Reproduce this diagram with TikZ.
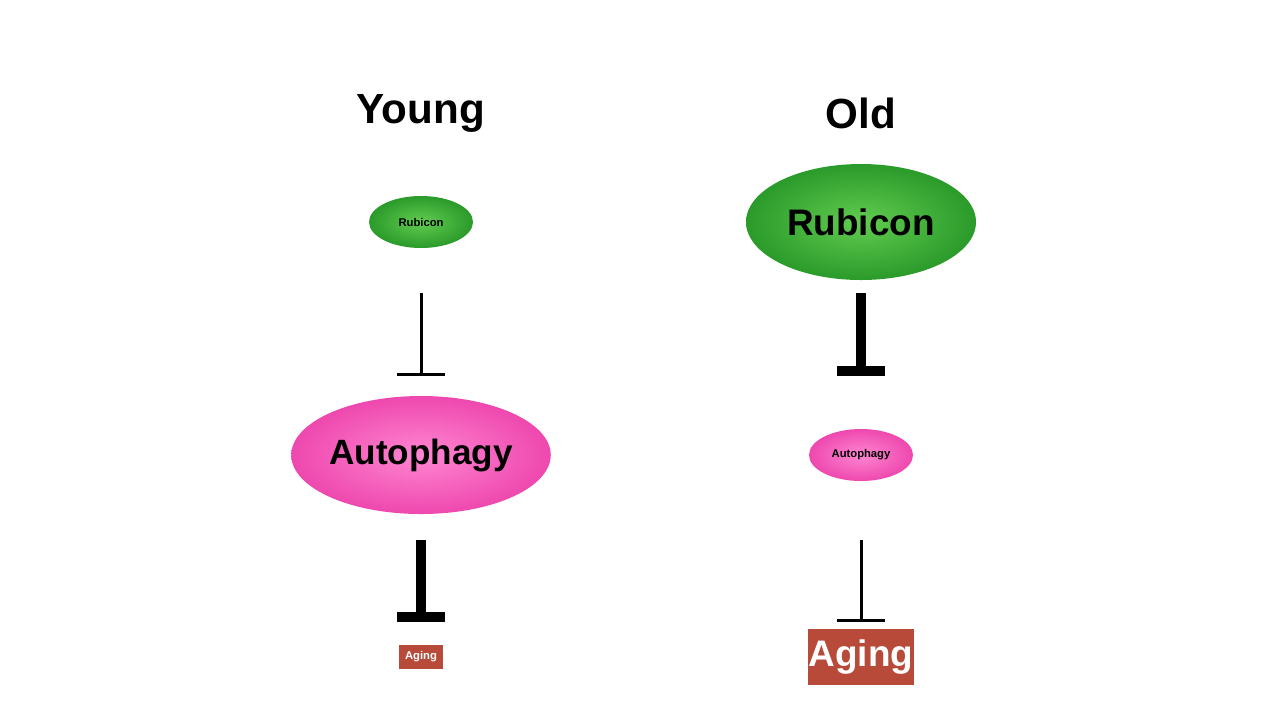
\documentclass[tikz,border=0pt]{standalone}
\usepackage{fontspec}
\setmainfont{Liberation Sans}
\usetikzlibrary{arrows.meta,shapes.geometric}
\definecolor{rubgreen}{HTML}{2A9A2A}
\definecolor{rubgreenin}{HTML}{62CC50}
\definecolor{autopink}{HTML}{EE48AE}
\definecolor{autopinkin}{HTML}{FF86D2}
\definecolor{agingred}{HTML}{B84A3A}
\tikzset{
  rubicon/.style={ellipse, inner sep=0pt, shading=radial, inner color=rubgreenin, outer color=rubgreen, font=\bfseries},
  autoph/.style={ellipse, inner sep=0pt, shading=radial, inner color=autopinkin, outer color=autopink, font=\bfseries},
  agingbox/.style={rectangle, inner sep=0pt, fill=agingred, text=white, font=\bfseries},
  inhib/.style={-{Bar[width=4.8mm]}},
}
\begin{document}
\begin{tikzpicture}[x=0.1mm, y=-0.1mm] %Um pixel da figura por unidade
	\useasboundingbox (0,0) rectangle (1280,720);
		%Titulos
	\node (young) at (421,113) {\fontsize{12}{14}\selectfont\bfseries Young};
	\node (old) at (861,113) {\fontsize{12}{14}\selectfont\bfseries Old};
		%Coluna jovem
	\node[rubicon, minimum width=10.4mm, minimum height=5.2mm] (rubY) at (421,222) {\fontsize{3.2}{4}\selectfont Rubicon};
	\node[autoph, minimum width=23mm, minimum height=11.8mm] (autoY) at (421,455) {\fontsize{10}{12}\selectfont Autophagy};
	\node[agingbox, minimum width=4.4mm, minimum height=2.4mm] (ageY) at (421,657) {\fontsize{3.2}{4}\selectfont Aging};
		%Coluna velha
	\node[rubicon, minimum width=23mm, minimum height=11.6mm] (rubO) at (861,222) {\fontsize{10.5}{12}\selectfont Rubicon};
	\node[autoph, minimum width=10.4mm, minimum height=5.2mm] (autoO) at (861,455) {\fontsize{3.2}{4}\selectfont Autophagy};
	\node[agingbox, minimum width=10.6mm, minimum height=5.6mm] (ageO) at (861,657) {\fontsize{10.5}{12}\selectfont Aging};
		%Inibicoes
	\coordinate (y1s) at (421,293); \coordinate (y1e) at (421,376);
	\coordinate (y2s) at (421,540); \coordinate (y2e) at (421,622);
	\coordinate (o1s) at (861,293); \coordinate (o1e) at (861,376);
	\coordinate (o2s) at (861,540); \coordinate (o2e) at (861,622);
	\draw[inhib, line width=0.3mm] (y1s) -- (y1e);
	\draw[inhib, line width=1mm] (y2s) -- (y2e);
	\draw[inhib, line width=1mm] (o1s) -- (o1e);
	\draw[inhib, line width=0.3mm] (o2s) -- (o2e);
\end{tikzpicture}
\end{document}
